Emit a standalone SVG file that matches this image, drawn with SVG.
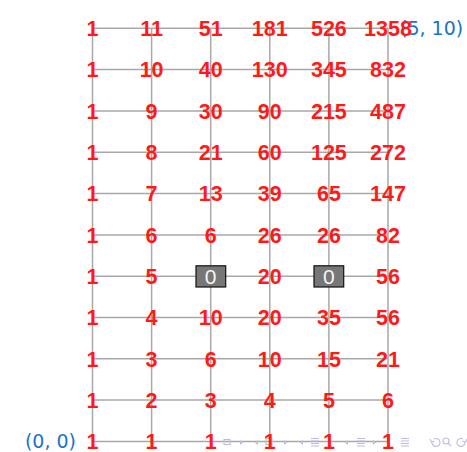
<svg xmlns="http://www.w3.org/2000/svg" width="467" height="452" viewBox="0 0 467 452">
<style>
.g{stroke:#a8a8a8;stroke-width:1.5;fill:none}
.n{font-family:"Liberation Sans",Arial,sans-serif;font-weight:bold;font-size:21.5px;fill:#ff1a1a;text-anchor:middle}
.z{font-family:"Liberation Sans",Arial,sans-serif;font-size:21px;fill:#f4f4f4;text-anchor:middle}
.b{fill:#777777;stroke:#111111;stroke-width:1.2}
.lab{font-family:"DejaVu Sans","Liberation Sans",sans-serif;font-size:19px;fill:#1b74c4}
.nav{fill:none;stroke:#bcbce2;stroke-width:1.1}
.navf{fill:#bcbce2}
</style>
<g id="connectors">
<path class="g" d="M92.5 28.3H388M92.5 69.6H388M92.5 110.9H388M92.5 152.2H388M92.5 193.5H388M92.5 234.9H388M92.5 276.2H388M92.5 317.5H388M92.5 358.8H388M92.5 400.1H388M92.5 441.5H388"/>
<path class="g" d="M92.5 28.3V441.5M151.6 28.3V441.5M210.7 28.3V441.5M269.8 28.3V441.5M328.9 28.3V441.5M388 28.3V441.5"/>
</g>
<g id="nav">
<rect class="nav" x="224" y="439.5" width="6" height="5"/>
<path class="navf" d="M240 440l3 2.5-3 2.5z M258 440l-3 2.5 3 2.5z M284 440l3 2.5-3 2.5z M303 440l-3 2.5 3 2.5z M348 440l-3 2.5 3 2.5z M373 440l3 2.5-3 2.5z"/>
<rect class="nav" x="266" y="438.5" width="6" height="6"/>
<path class="nav" d="M311 438.5h8M311 441h8M311 443.5h8M311 446h8M357 438.5h8M357 441h8M357 443.5h8M357 446h8M401 438.5h8M401 441h8M401 443.5h8M401 446h8"/>
<path class="nav" d="M434 439a4 4 0 1 1 -2 3.5M430 439l1.5 3 3-1"/>
<circle class="nav" cx="446" cy="441" r="3"/>
<path class="nav" d="M448 443l3 3"/>
<path class="nav" d="M463 439a4 4 0 1 0 2 3.5M467 439l-1.5 3-3-1"/>
</g>
<g id="labels">
<text class="lab" x="76" y="448" text-anchor="end">(0, 0)</text>
<text class="lab" x="400" y="35">(5, 10)</text>
</g>
<g id="r10">
<g id="n0_10"><text class="n" x="92.5" y="36">1</text></g>
<g id="n1_10"><text class="n" x="151.6" y="36">11</text></g>
<g id="n2_10"><text class="n" x="210.7" y="36">51</text></g>
<g id="n3_10"><text class="n" x="269.8" y="36">181</text></g>
<g id="n4_10"><text class="n" x="328.9" y="36">526</text></g>
<g id="n5_10"><text class="n" x="388" y="36">1358</text></g>
</g>
<g id="r9">
<g id="n0_9"><text class="n" x="92.5" y="77.3">1</text></g>
<g id="n1_9"><text class="n" x="151.6" y="77.3">10</text></g>
<g id="n2_9"><text class="n" x="210.7" y="77.3">40</text></g>
<g id="n3_9"><text class="n" x="269.8" y="77.3">130</text></g>
<g id="n4_9"><text class="n" x="328.9" y="77.3">345</text></g>
<g id="n5_9"><text class="n" x="388" y="77.3">832</text></g>
</g>
<g id="r8">
<g id="n0_8"><text class="n" x="92.5" y="118.6">1</text></g>
<g id="n1_8"><text class="n" x="151.6" y="118.6">9</text></g>
<g id="n2_8"><text class="n" x="210.7" y="118.6">30</text></g>
<g id="n3_8"><text class="n" x="269.8" y="118.6">90</text></g>
<g id="n4_8"><text class="n" x="328.9" y="118.6">215</text></g>
<g id="n5_8"><text class="n" x="388" y="118.6">487</text></g>
</g>
<g id="r7">
<g id="n0_7"><text class="n" x="92.5" y="159.9">1</text></g>
<g id="n1_7"><text class="n" x="151.6" y="159.9">8</text></g>
<g id="n2_7"><text class="n" x="210.7" y="159.9">21</text></g>
<g id="n3_7"><text class="n" x="269.8" y="159.9">60</text></g>
<g id="n4_7"><text class="n" x="328.9" y="159.9">125</text></g>
<g id="n5_7"><text class="n" x="388" y="159.9">272</text></g>
</g>
<g id="r6">
<g id="n0_6"><text class="n" x="92.5" y="201.2">1</text></g>
<g id="n1_6"><text class="n" x="151.6" y="201.2">7</text></g>
<g id="n2_6"><text class="n" x="210.7" y="201.2">13</text></g>
<g id="n3_6"><text class="n" x="269.8" y="201.2">39</text></g>
<g id="n4_6"><text class="n" x="328.9" y="201.2">65</text></g>
<g id="n5_6"><text class="n" x="388" y="201.2">147</text></g>
</g>
<g id="r5">
<g id="n0_5"><text class="n" x="92.5" y="242.6">1</text></g>
<g id="n1_5"><text class="n" x="151.6" y="242.6">6</text></g>
<g id="n2_5"><text class="n" x="210.7" y="242.6">6</text></g>
<g id="n3_5"><text class="n" x="269.8" y="242.6">26</text></g>
<g id="n4_5"><text class="n" x="328.9" y="242.6">26</text></g>
<g id="n5_5"><text class="n" x="388" y="242.6">82</text></g>
</g>
<g id="r4">
<g id="n0_4"><text class="n" x="92.5" y="283.9">1</text></g>
<g id="n1_4"><text class="n" x="151.6" y="283.9">5</text></g>
<g id="n2_4"><rect class="b" x="196" y="265.8" width="29.7" height="21.2"/><text class="z" x="210.7" y="283.7">0</text></g>
<g id="n3_4"><text class="n" x="269.8" y="283.9">20</text></g>
<g id="n4_4"><rect class="b" x="314" y="265.8" width="29.7" height="21.2"/><text class="z" x="328.9" y="283.7">0</text></g>
<g id="n5_4"><text class="n" x="388" y="283.9">56</text></g>
</g>
<g id="r3">
<g id="n0_3"><text class="n" x="92.5" y="325.2">1</text></g>
<g id="n1_3"><text class="n" x="151.6" y="325.2">4</text></g>
<g id="n2_3"><text class="n" x="210.7" y="325.2">10</text></g>
<g id="n3_3"><text class="n" x="269.8" y="325.2">20</text></g>
<g id="n4_3"><text class="n" x="328.9" y="325.2">35</text></g>
<g id="n5_3"><text class="n" x="388" y="325.2">56</text></g>
</g>
<g id="r2">
<g id="n0_2"><text class="n" x="92.5" y="366.5">1</text></g>
<g id="n1_2"><text class="n" x="151.6" y="366.5">3</text></g>
<g id="n2_2"><text class="n" x="210.7" y="366.5">6</text></g>
<g id="n3_2"><text class="n" x="269.8" y="366.5">10</text></g>
<g id="n4_2"><text class="n" x="328.9" y="366.5">15</text></g>
<g id="n5_2"><text class="n" x="388" y="366.5">21</text></g>
</g>
<g id="r1">
<g id="n0_1"><text class="n" x="92.5" y="407.8">1</text></g>
<g id="n1_1"><text class="n" x="151.6" y="407.8">2</text></g>
<g id="n2_1"><text class="n" x="210.7" y="407.8">3</text></g>
<g id="n3_1"><text class="n" x="269.8" y="407.8">4</text></g>
<g id="n4_1"><text class="n" x="328.9" y="407.8">5</text></g>
<g id="n5_1"><text class="n" x="388" y="407.8">6</text></g>
</g>
<g id="r0">
<g id="n0_0"><text class="n" x="92.5" y="448.5">1</text></g>
<g id="n1_0"><text class="n" x="151.6" y="448.5">1</text></g>
<g id="n2_0"><text class="n" x="210.7" y="448.5">1</text></g>
<g id="n3_0"><text class="n" x="269.8" y="448.5">1</text></g>
<g id="n4_0"><text class="n" x="328.9" y="448.5">1</text></g>
<g id="n5_0"><text class="n" x="388" y="448.5">1</text></g>
</g>
</svg>
